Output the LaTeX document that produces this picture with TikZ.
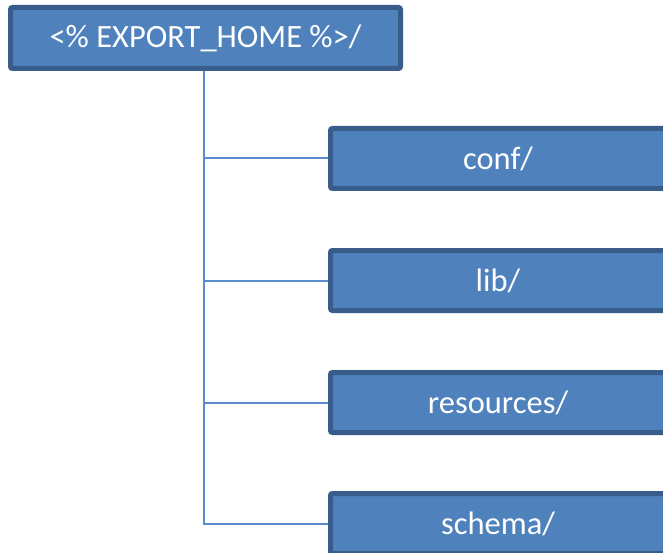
\documentclass[tikz,border=0pt]{standalone}
\usepackage{fontspec}
\setmainfont{Carlito}
\definecolor{boxfill}{HTML}{4F81BD}
\definecolor{boxline}{HTML}{385D8A}
\definecolor{treeline}{HTML}{5B8BD0}
\begin{document}
\begin{tikzpicture}[x=1pt,y=-1pt,
  folder/.style={draw=boxline, line width=5pt, fill=boxfill, rounded corners=2pt,
    text=white, font=\fontsize{32.5}{36}\selectfont, inner sep=0pt},
  link/.style={draw=treeline, line width=2pt}]
\useasboundingbox (0,0) rectangle (663,553);
\clip (0,0) rectangle (663,553);

\node[folder, minimum width=390pt, minimum height=61pt] (home) at (205.5,38) {<\% EXPORT\_HOME \%>/};

\node[folder, minimum width=335pt, minimum height=60pt] (conf) at (498,158.5) {conf/};
\node[folder, minimum width=335pt, minimum height=60pt] (lib) at (498,280.5) {lib/};
\node[folder, minimum width=335pt, minimum height=60pt] (res) at (498,402.5) {resources/};
\node[folder, minimum width=335pt, minimum height=60pt] (schema) at (498,523.5) {schema/};

\draw[link] ([xshift=-1.5pt]home.south) |- (conf.west);
\draw[link] ([xshift=-1.5pt]home.south) |- (lib.west);
\draw[link] ([xshift=-1.5pt]home.south) |- (res.west);
\draw[link] ([xshift=-1.5pt]home.south) |- (schema.west);
\end{tikzpicture}
\end{document}
